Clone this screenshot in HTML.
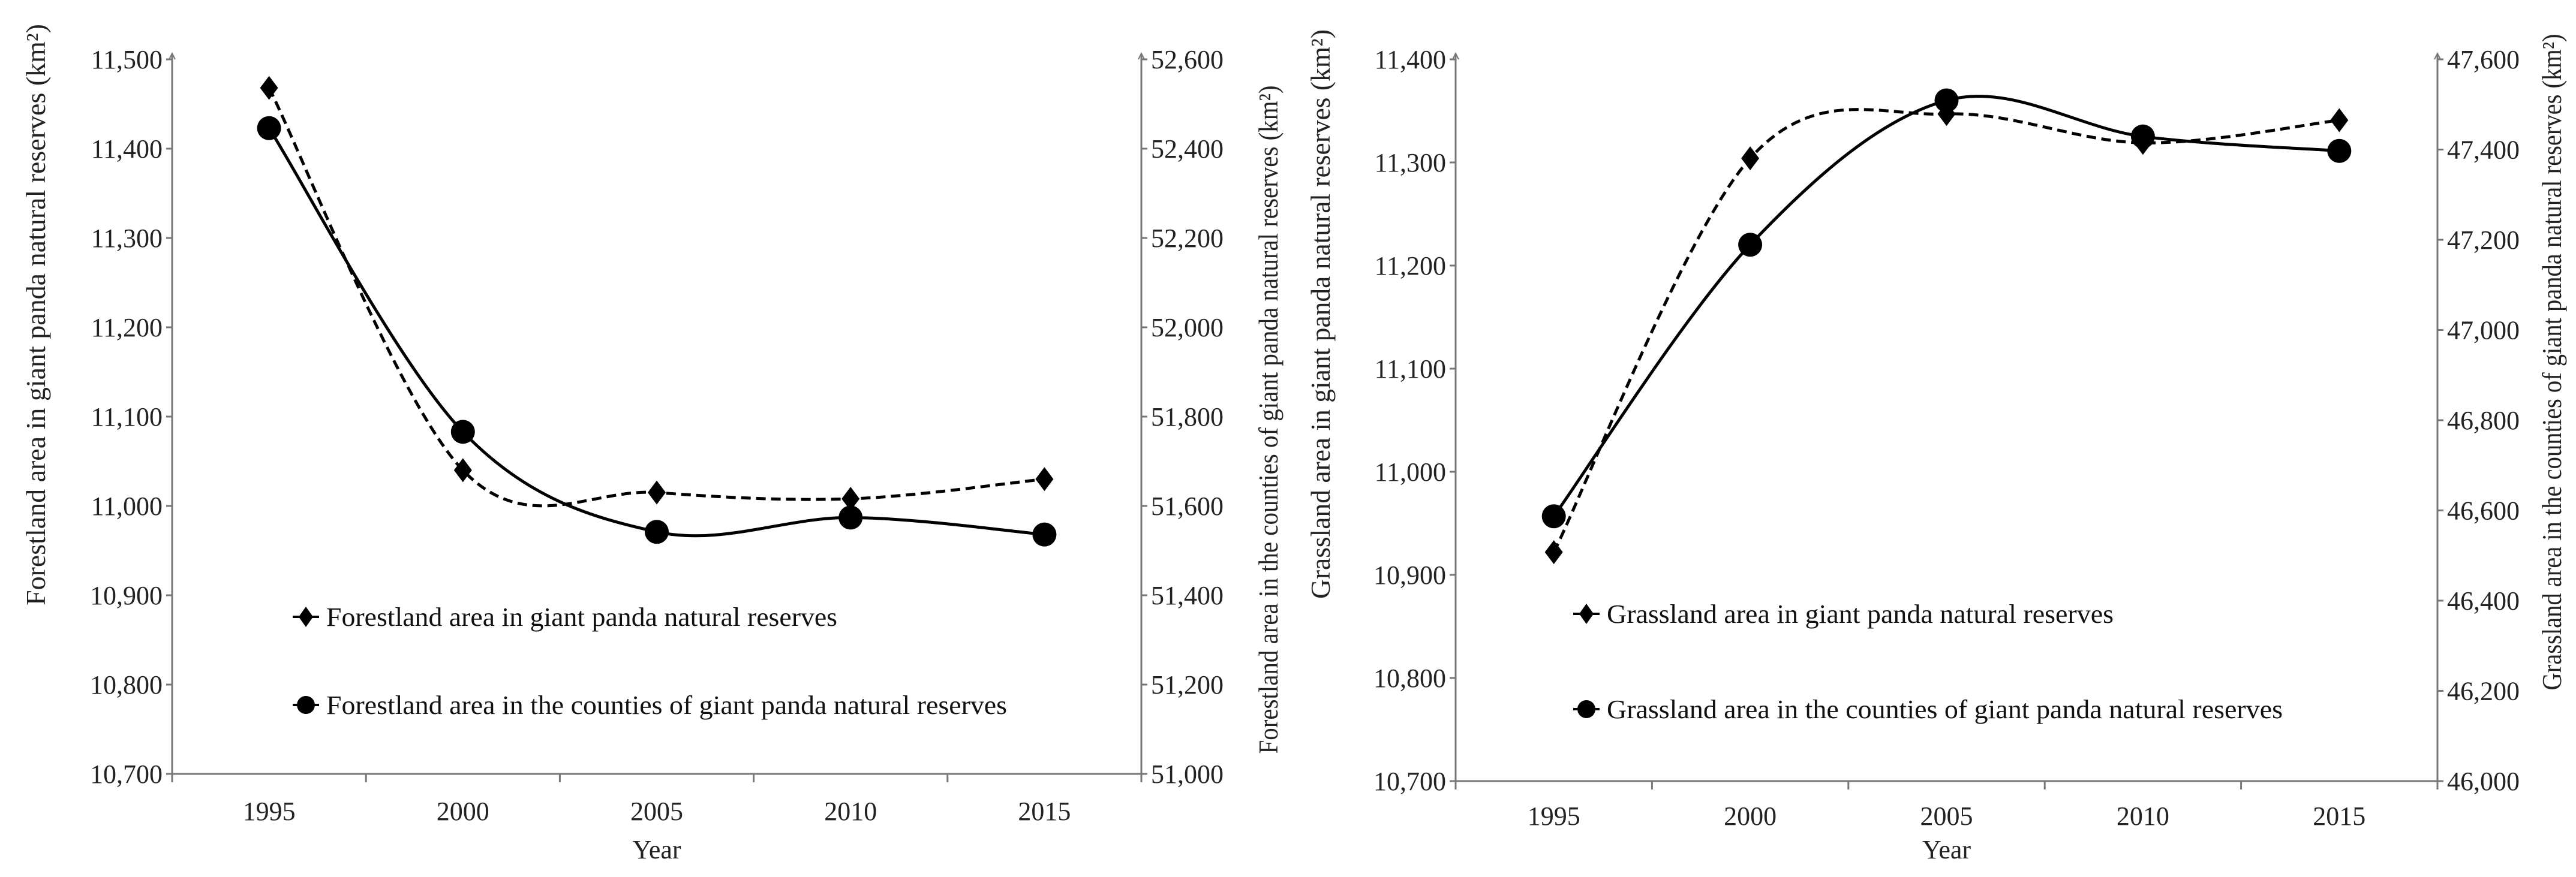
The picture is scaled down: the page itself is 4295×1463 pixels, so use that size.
<!DOCTYPE html>
<html><head><meta charset="utf-8"><style>
html,body{margin:0;padding:0;background:#fff;}
svg{display:block;font-family:"Liberation Serif",serif;}
</style></head><body>
<svg id="chart" width="4295" height="1463" viewBox="0 0 4295 1463" xmlns="http://www.w3.org/2000/svg"></svg>
<script>
const years = ["1995","2000","2005","2010","2015"];
const forestReserve = [11468, 11040, 11015, 11008, 11030];
const forestCounty = [52446, 51766, 51542, 51574, 51536];
const forestLeftTicks = [10700,10800,10900,11000,11100,11200,11300,11400,11500];
const forestRightTicks = [51000,51200,51400,51600,51800,52000,52200,52400,52600];
const grassReserve = [10922, 11304, 11347, 11319, 11341];
const grassCounty = [46587, 47189, 47509, 47429, 47397];
const grassLeftTicks = [10700,10800,10900,11000,11100,11200,11300,11400];
const grassRightTicks = [46000,46200,46400,46600,46800,47000,47200,47400,47600];

const NS="http://www.w3.org/2000/svg";
const svg=document.getElementById('chart');
function mk(tag,attrs,parent){const e=document.createElementNS(NS,tag);for(const k in attrs)e.setAttribute(k,attrs[k]);(parent||svg).appendChild(e);return e;}
function fmt(v){return v.toLocaleString('en-US');}
function smooth(pts){
  let d=`M${pts[0][0]},${pts[0][1]}`;
  for(let i=0;i<pts.length-1;i++){
    const p0=pts[i-1]||pts[i],p1=pts[i],p2=pts[i+1],p3=pts[i+2]||p2;
    const c1=[p1[0]+(p2[0]-p0[0])/6,p1[1]+(p2[1]-p0[1])/6];
    const c2=[p2[0]-(p3[0]-p1[0])/6,p2[1]-(p3[1]-p1[1])/6];
    d+=` C${c1[0]},${c1[1]} ${c2[0]},${c2[1]} ${p2[0]},${p2[1]}`;
  }
  return d;
}
function drawChart(cfg){
  const g=mk('g',{});
  
  
  const {x0,x1,yTop,yBot}=cfg;
  const band=(x1-x0)/years.length;
  const xs=i=>x0+band*(i+0.5);
  const lmin=cfg.lt[0],lmax=cfg.lt[cfg.lt.length-1];
  const rmin=cfg.rt[0],rmax=cfg.rt[cfg.rt.length-1];
  const yl=v=>yBot-(v-lmin)/(lmax-lmin)*(yBot-yTop);
  const yr=v=>yBot-(v-rmin)/(rmax-rmin)*(yBot-yTop);
  const ax={stroke:'#777','stroke-width':3,fill:'none'};
  let a=mk('line',Object.assign({x1:x0,y1:yTop-8,x2:x0,y2:yBot},ax),g);
  
  a=mk('line',Object.assign({x1:x1,y1:yTop-8,x2:x1,y2:yBot},ax),g);
  
  a=mk('line',Object.assign({x1:x0,y1:yBot,x2:x1,y2:yBot},ax),g);
  
  mk('path',{d:`M${x0-5},${yTop} L${x0},${yTop-10} L${x0+5},${yTop}`,stroke:'#777','stroke-width':2,fill:'none'},g);
  mk('path',{d:`M${x1-5},${yTop} L${x1},${yTop-10} L${x1+5},${yTop}`,stroke:'#777','stroke-width':2,fill:'none'},g);
  cfg.lt.forEach(v=>{
    mk('line',{x1:x0-10,y1:yl(v),x2:x0,y2:yl(v),stroke:'#777','stroke-width':3},g);
    const t=mk('text',{x:x0-16,y:yl(v)+15,'text-anchor':'end','font-size':44,fill:'#222'},g);
    t.textContent=fmt(v);
    
  });
  cfg.rt.forEach(v=>{
    mk('line',{x1:x1,y1:yr(v),x2:x1+10,y2:yr(v),stroke:'#777','stroke-width':3},g);
    const t=mk('text',{x:x1+16,y:yr(v)+15,'text-anchor':'start','font-size':44,fill:'#222'},g);
    t.textContent=fmt(v);
    
  });
  for(let i=0;i<=years.length;i++){
    mk('line',{x1:x0+band*i,y1:yBot,x2:x0+band*i,y2:yBot+14,stroke:'#777','stroke-width':3},g);
  }
  years.forEach((y,i)=>{
    const t=mk('text',{x:xs(i),y:cfg.xlabY,'text-anchor':'middle','font-size':44,fill:'#222'},g);
    t.textContent=y;
    
  });
  let t=mk('text',{x:(x0+x1)/2,y:1432,'text-anchor':'middle','font-size':44,fill:'#222'},g);
  t.textContent='Year';
  t=mk('text',{x:-cfg.ltW/2,y:0,'font-size':46,fill:'#222',textLength:cfg.ltW,lengthAdjust:'spacingAndGlyphs',transform:`translate(${cfg.ltx},${cfg.lty}) rotate(-90)`},g);
  t.textContent=cfg.ltitle;
  t=mk('text',{x:-cfg.rtW/2,y:0,'font-size':46,fill:'#222',textLength:cfg.rtW,lengthAdjust:'spacingAndGlyphs',transform:`translate(${cfg.rtx},${cfg.rty}) rotate(-90)`},g);
  t.textContent=cfg.rtitle;
  const pd=cfg.dashed.map((v,i)=>[xs(i),yl(v)]);
  const ps=cfg.solid.map((v,i)=>[xs(i),yr(v)]);
  let p=mk('path',{d:smooth(pd),stroke:'#000','stroke-width':5,fill:'none','stroke-dasharray':'16,9'},g);
  
  p=mk('path',{d:smooth(ps),stroke:'#000','stroke-width':5,fill:'none'},g);
  
  pd.forEach(q=>{
    const m=mk('path',{d:`M${q[0]},${q[1]-20} L${q[0]+15},${q[1]} L${q[0]},${q[1]+20} L${q[0]-15},${q[1]} Z`,fill:'#000'},g);
    
  });
  ps.forEach(q=>{
    const m=mk('circle',{cx:q[0],cy:q[1],r:20,fill:'#000'},g);
    
  });
  const lg=mk('g',{},g);
  
  const mx=cfg.legX,l1=cfg.legY1,l2=cfg.legY2;
  mk('line',{x1:mx-22,y1:l1,x2:mx+22,y2:l1,stroke:'#000','stroke-width':4},lg);
  mk('path',{d:`M${mx},${l1-17} L${mx+12},${l1} L${mx},${l1+17} L${mx-12},${l1} Z`,fill:'#000'},lg);
  mk('line',{x1:mx-22,y1:l2,x2:mx+22,y2:l2,stroke:'#000','stroke-width':4},lg);
  mk('circle',{cx:mx,cy:l2,r:15,fill:'#000'},lg);
  t=mk('text',{x:mx+34,y:l1+15,'font-size':44,fill:'#111',textLength:cfg.leg1W,lengthAdjust:'spacingAndGlyphs'},lg);
  t.textContent=cfg.leg1;
  t=mk('text',{x:mx+34,y:l2+15,'font-size':44,fill:'#111',textLength:cfg.leg2W,lengthAdjust:'spacingAndGlyphs'},lg);
  t.textContent=cfg.leg2;
}
drawChart({name:'forestland-chart',x0:287,x1:1903,yTop:99,yBot:1291,xlabY:1368,
  lt:forestLeftTicks,rt:forestRightTicks,dashed:forestReserve,solid:forestCounty,
  ltitle:'Forestland area in giant panda natural reserves (km²)',ltx:75,lty:525,ltW:970,
  rtitle:'Forestland area in the counties of giant panda natural reserves (km²)',rtx:2130,rty:700,rtW:1115,
  legX:510,legY1:1029,legY2:1176,leg1:'Forestland area in giant panda natural reserves',leg1W:852,
  leg2:'Forestland area in the counties of giant panda natural reserves',leg2W:1135});
drawChart({name:'grassland-chart',x0:2427,x1:4064,yTop:99,yBot:1303,xlabY:1376,
  lt:grassLeftTicks,rt:grassRightTicks,dashed:grassReserve,solid:grassCounty,
  ltitle:'Grassland area in giant panda natural reserves (km²)',ltx:2217,lty:524,ltW:950,
  rtitle:'Grassland area in the counties of giant panda natural reserves (km²)',rtx:4270,rty:604,rtW:1095,
  legX:2645,legY1:1024,legY2:1183,leg1:'Grassland area in giant panda natural reserves',leg1W:845,
  leg2:'Grassland area in the counties of giant panda natural reserves',leg2W:1127});
</script>
</body></html>
